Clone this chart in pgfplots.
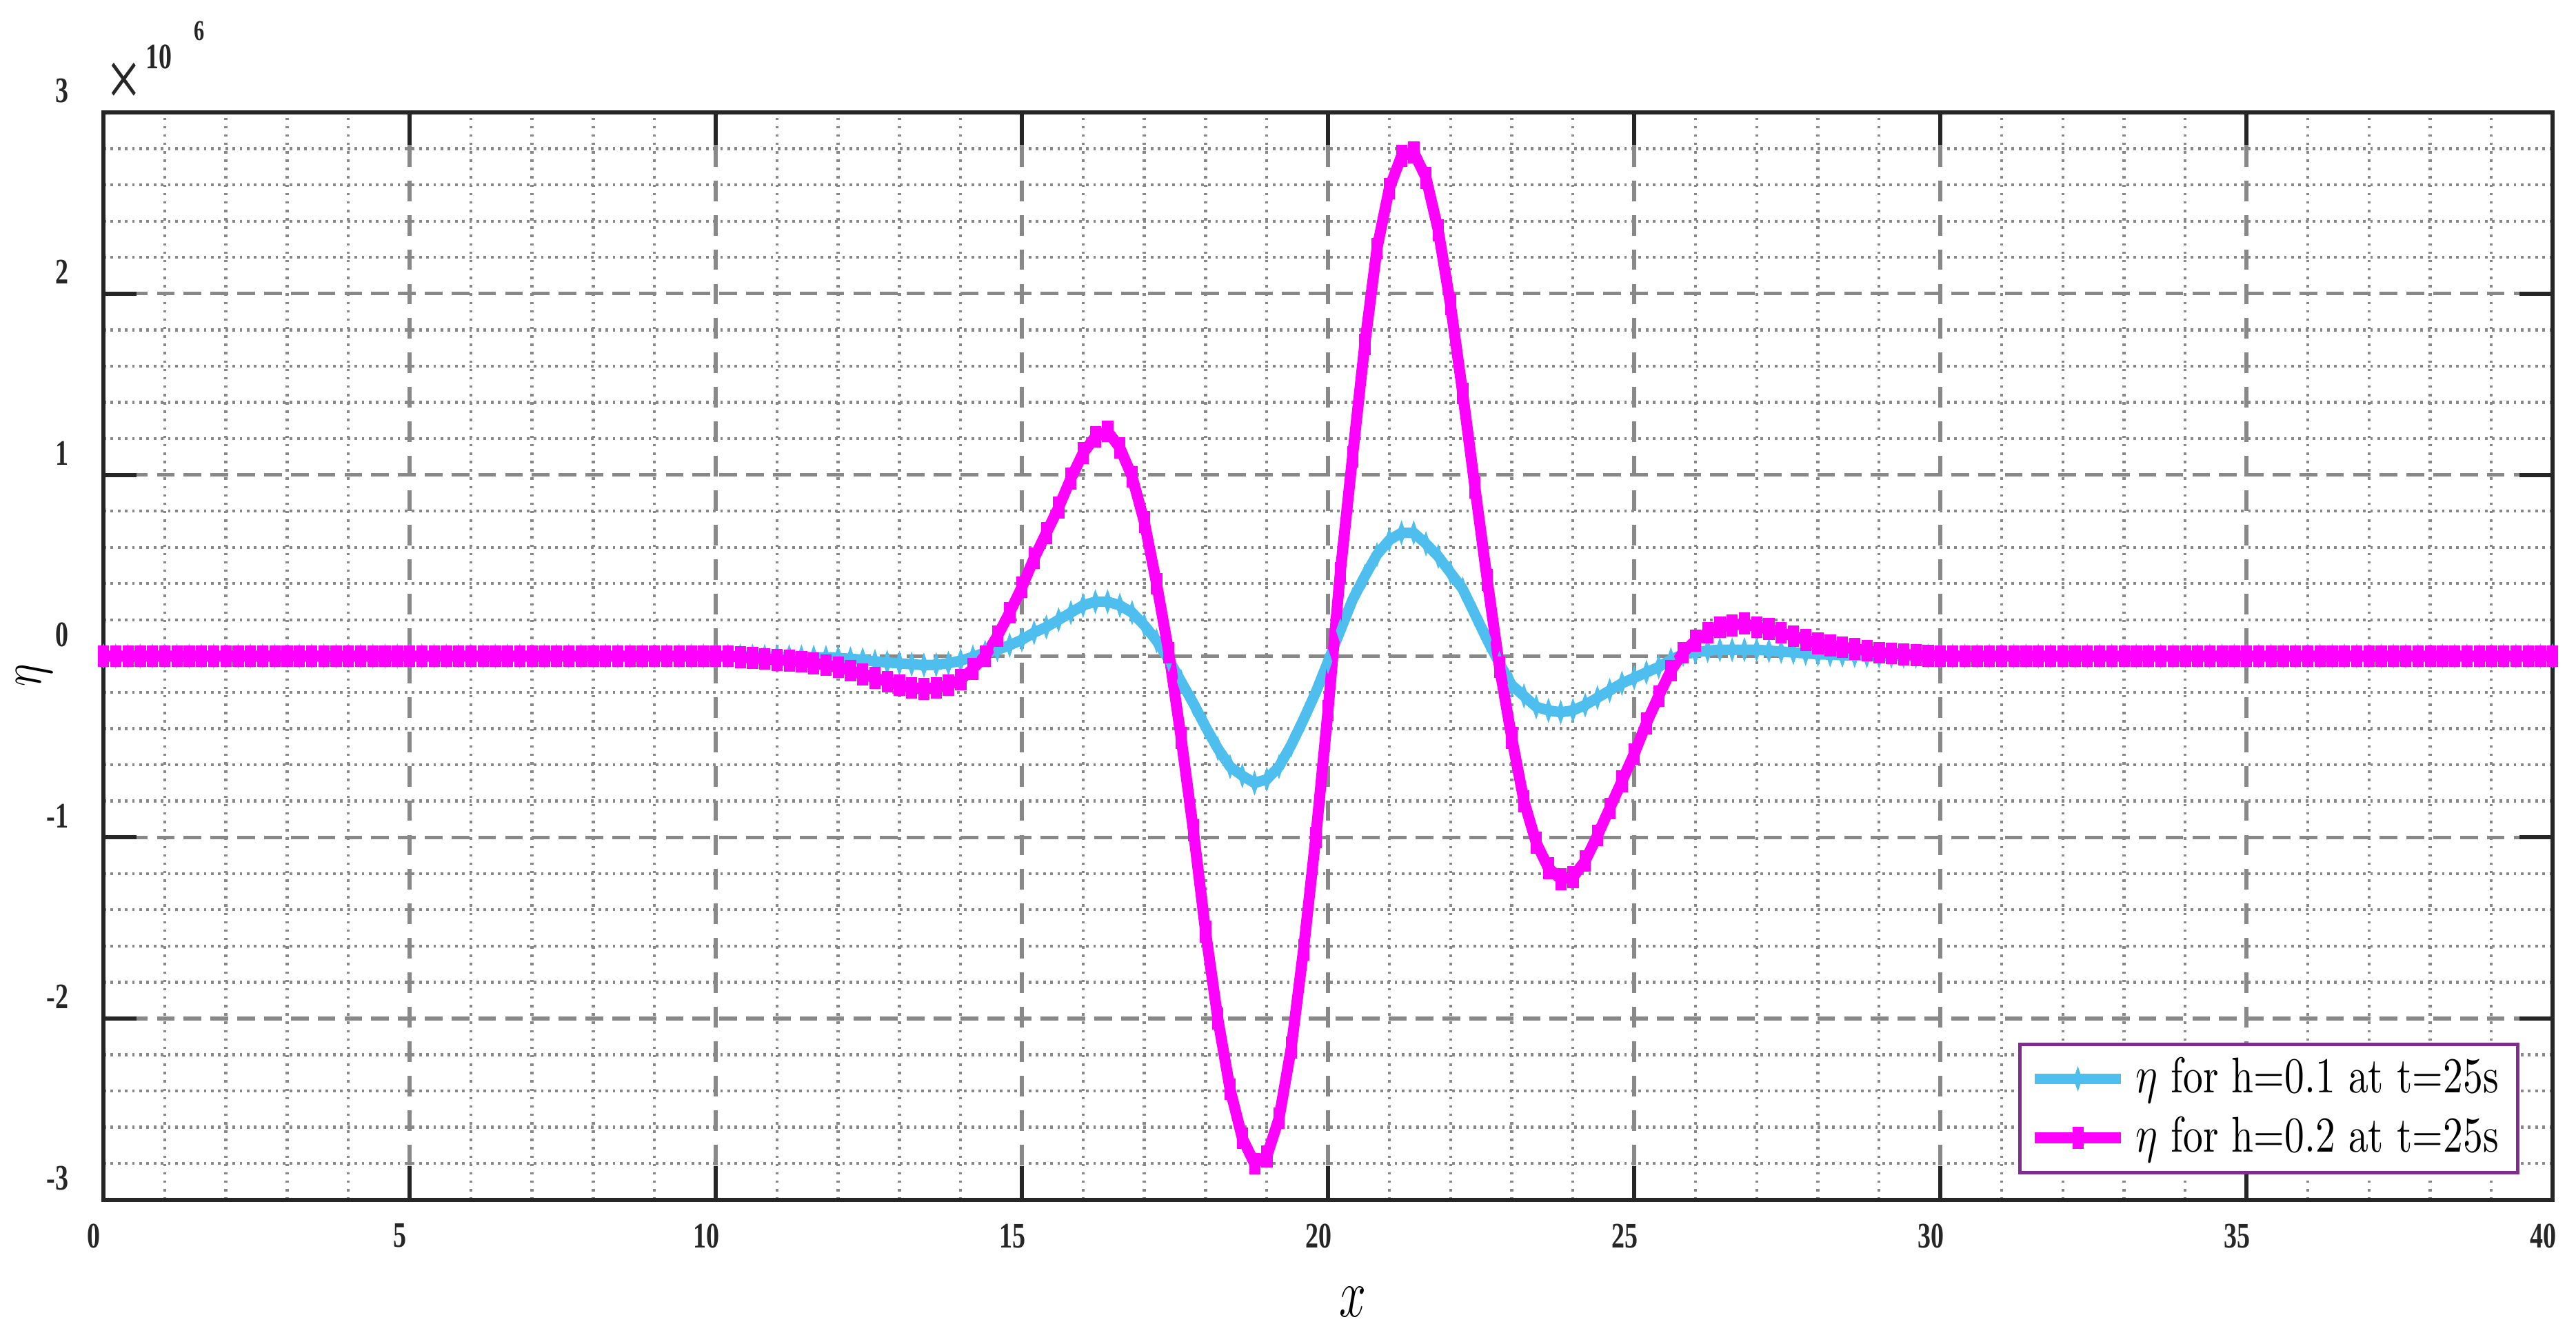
\documentclass[border=0pt]{standalone}
\usepackage{fontspec}
\usepackage{pgfplots}
\usepackage{pgfplotstable}
\pgfplotsset{compat=1.18}

% the figure is squeezed sideways, so the fonts are too
\newfontfamily\tickfont{Liberation Serif}[FakeStretch=0.73]

\definecolor{mcyan}{rgb}{0.301,0.745,0.933}
\definecolor{mmag}{rgb}{1,0,1}
\definecolor{mpurple}{rgb}{0.494,0.184,0.556}
\definecolor{mgrid}{RGB}{136,136,136}
\definecolor{mframe}{RGB}{38,38,38}

% x, eta for h=0.1 (a), eta for h=0.2 (b), in units of 1e-6
\pgfplotstableread[row sep=\\]{
x a b\\
0 0 0\\ 0.2 0 0\\ 0.4 0 0\\ 0.6 0 0\\ 0.8 0 0\\ 1.0 0 0\\ 1.2 0 0\\ 1.4 0 0\\ 1.6 0 0\\ 1.8 0 0\\
2.0 0 0\\ 2.2 0 0\\ 2.4 0 0\\ 2.6 0 0\\ 2.8 0 0\\ 3.0 0 0\\ 3.2 0 0\\ 3.4 0 0\\ 3.6 0 0\\ 3.8 0 0\\
4.0 0 0\\ 4.2 0 0\\ 4.4 0 0\\ 4.6 0 0\\ 4.8 0 0\\ 5.0 0 0\\ 5.2 0 0\\ 5.4 0 0\\ 5.6 0 0\\ 5.8 0 0\\
6.0 0 0\\ 6.2 0 0\\ 6.4 0 0\\ 6.6 0 0\\ 6.8 0 0\\ 7.0 0 0\\ 7.2 0 0\\ 7.4 0 0\\ 7.6 0 0\\ 7.8 0 0\\
8.0 0 0\\ 8.2 0 0\\ 8.4 0 0\\ 8.6 0 0\\ 8.8 0 0\\ 9.0 0 0\\ 9.2 0 0\\ 9.4 0 0\\ 9.6 0 0\\ 9.8 0 0\\
10.0 0 0\\ 10.2 0 0\\ 10.4 0 -0.005\\ 10.6 0 -0.01\\ 10.8 -0.002 -0.015\\
11.0 -0.003 -0.02\\ 11.2 -0.004 -0.025\\ 11.4 -0.005 -0.03\\ 11.6 -0.007 -0.04\\ 11.8 -0.008 -0.05\\
12.0 -0.01 -0.06\\ 12.2 -0.015 -0.08\\ 12.4 -0.02 -0.10\\ 12.6 -0.03 -0.12\\ 12.8 -0.035 -0.14\\
13.0 -0.04 -0.16\\ 13.2 -0.045 -0.175\\ 13.4 -0.05 -0.18\\ 13.6 -0.048 -0.175\\ 13.8 -0.04 -0.16\\
14.0 -0.025 -0.13\\ 14.2 -0.005 -0.07\\ 14.4 0.02 0.0\\ 14.6 0.035 0.11\\ 14.8 0.06 0.24\\
15.0 0.09 0.38\\ 15.2 0.13 0.54\\ 15.4 0.16 0.68\\ 15.6 0.20 0.82\\ 15.8 0.24 0.98\\
16.0 0.28 1.12\\ 16.2 0.30 1.21\\ 16.4 0.30 1.24\\ 16.6 0.28 1.15\\ 16.8 0.24 0.99\\
17.0 0.17 0.74\\ 17.2 0.085 0.40\\ 17.4 -0.02 0.02\\ 17.6 -0.14 -0.45\\ 17.8 -0.26 -0.96\\
18.0 -0.39 -1.52\\ 18.2 -0.51 -2.00\\ 18.4 -0.61 -2.39\\ 18.6 -0.66 -2.66\\ 18.8 -0.70 -2.80\\
19.0 -0.68 -2.76\\ 19.2 -0.61 -2.55\\ 19.4 -0.49 -2.16\\ 19.6 -0.35 -1.62\\ 19.8 -0.20 -1.00\\
20.0 -0.03 -0.30\\ 20.2 0.14 0.46\\ 20.4 0.31 1.10\\ 20.6 0.44 1.72\\ 20.8 0.56 2.25\\
21.0 0.64 2.58\\ 21.2 0.68 2.76\\ 21.4 0.68 2.78\\ 21.6 0.62 2.64\\ 21.8 0.55 2.35\\
22.0 0.46 1.94\\ 22.2 0.37 1.45\\ 22.4 0.23 0.93\\ 22.6 0.09 0.42\\ 22.8 -0.04 -0.06\\
23.0 -0.16 -0.45\\ 23.2 -0.22 -0.80\\ 23.4 -0.28 -1.03\\ 23.6 -0.30 -1.17\\ 23.8 -0.31 -1.23\\
24.0 -0.30 -1.22\\ 24.2 -0.27 -1.13\\ 24.4 -0.23 -0.99\\ 24.6 -0.19 -0.84\\ 24.8 -0.15 -0.69\\
25.0 -0.12 -0.54\\ 25.2 -0.09 -0.37\\ 25.4 -0.06 -0.22\\ 25.6 -0.02 -0.08\\ 25.8 0.01 0.02\\
26.0 0.02 0.085\\ 26.2 0.03 0.13\\ 26.4 0.035 0.16\\ 26.6 0.035 0.17\\ 26.8 0.035 0.18\\
27.0 0.035 0.16\\ 27.2 0.03 0.15\\ 27.4 0.025 0.13\\ 27.6 0.02 0.11\\ 27.8 0.015 0.09\\
28.0 0.01 0.07\\ 28.2 0.008 0.06\\ 28.4 0.005 0.05\\ 28.6 0.003 0.04\\ 28.8 0.002 0.03\\
29.0 0 0.02\\ 29.2 0 0.016\\ 29.4 0 0.01\\ 29.6 0 0.005\\ 29.8 0 0.002\\
30.0 0 0\\ 30.2 0 0\\ 30.4 0 0\\ 30.6 0 0\\ 30.8 0 0\\ 31.0 0 0\\ 31.2 0 0\\ 31.4 0 0\\ 31.6 0 0\\ 31.8 0 0\\
32.0 0 0\\ 32.2 0 0\\ 32.4 0 0\\ 32.6 0 0\\ 32.8 0 0\\ 33.0 0 0\\ 33.2 0 0\\ 33.4 0 0\\ 33.6 0 0\\ 33.8 0 0\\
34.0 0 0\\ 34.2 0 0\\ 34.4 0 0\\ 34.6 0 0\\ 34.8 0 0\\ 35.0 0 0\\ 35.2 0 0\\ 35.4 0 0\\ 35.6 0 0\\ 35.8 0 0\\
36.0 0 0\\ 36.2 0 0\\ 36.4 0 0\\ 36.6 0 0\\ 36.8 0 0\\ 37.0 0 0\\ 37.2 0 0\\ 37.4 0 0\\ 37.6 0 0\\ 37.8 0 0\\
38.0 0 0\\ 38.2 0 0\\ 38.4 0 0\\ 38.6 0 0\\ 38.8 0 0\\ 39.0 0 0\\ 39.2 0 0\\ 39.4 0 0\\ 39.6 0 0\\ 39.8 0 0\\
40.0 0 0\\
}\etadata

\begin{document}
\begin{tikzpicture}
\begin{axis}[
    name=ax,
    scale only axis,
    width=18cm, height=7.99cm,
    xmin=0, xmax=40, ymin=-3, ymax=3,
    xtick={0,5,...,40},
    ytick={-3,-2,...,3},
    xticklabels={0,5,10,15,20,25,30,35,40},
    yticklabels={-3,-2,-1,0,1,2,3},
    minor tick num=4,
    minor tick length=0pt,
    major tick length=0.245cm,
    tick align=inside,
    tick style={mframe, line width=0.87pt},
    axis line style={mframe, line width=0.87pt},
    ticklabel style={font=\tickfont\bfseries\fontsize{7.5}{8}\selectfont, text=mframe},
    yticklabel style={xshift=-3.8pt, yshift=4.5pt},
    xticklabel style={xshift=-2pt, yshift=-1.5pt},
    grid=both,
    major grid style={mgrid, line width=0.75pt},
    minor grid style={mgrid, line width=0.62pt},
    major x grid style={dash pattern=on 4.3pt off 2.9pt},
    major y grid style={dash pattern=on 3.7pt off 1.9pt},
    minor x grid style={dash pattern=on 0.5pt off 1.25pt},
    minor y grid style={dash pattern=on 0.55pt off 0.95pt},
    xlabel={\scalebox{0.7}[1]{$x$}},
    xlabel style={font=\fontsize{14.4}{16}\selectfont, at={(rel axis cs:0.510,-0.0939)}, anchor=center},
    ylabel={\scalebox{0.75}[1]{$\eta$}},
    ylabel style={font=\fontsize{13}{15}\selectfont, at={(rel axis cs:-0.0282,0.482)}, anchor=center},
    legend cell align=left,
    legend image code/.code={%
        \draw[mark repeat=2, mark phase=2, #1] plot coordinates {(0cm,0cm) (0.315cm,0cm) (0.63cm,0cm)};},
    legend style={
        at={(rel axis cs:0.9865,0.0235)}, anchor=south east,
        draw=mpurple, line width=0.75pt, fill=white,
        inner xsep=2pt, inner ysep=0.8pt, row sep=-0.6pt,
        font=\fontsize{10.5}{12}\selectfont,
    },
]
\addplot[color=mcyan, line width=2.2pt, mark=diamond*, mark size=2.5pt,
    mark options={xscale=0.45, solid, line width=0.1pt}] table[x=x, y=a] {\etadata};
\addlegendentry{\scalebox{0.79}[1]{$\eta$ for h=0.1 at t=25s}}
\addplot[color=mmag, line width=2.3pt, mark=square*, mark size=2.2pt,
    mark options={xscale=0.5, solid, line width=0.1pt}] table[x=x, y=b] {\etadata};
\addlegendentry{\scalebox{0.79}[1]{$\eta$ for h=0.2 at t=25s}}
\end{axis}

% exponent label in the top left corner
\node[font=\tickfont\fontsize{17}{17}\selectfont, text=mframe, inner sep=0pt]
    at ([xshift=0.152cm, yshift=0.203cm]ax.north west) {×};
\node[font=\tickfont\bfseries\fontsize{7.5}{8}\selectfont, text=mframe, inner sep=0pt]
    at ([xshift=0.41cm, yshift=0.41cm]ax.north west) {10};
\node[font=\tickfont\bfseries\fontsize{6}{7}\selectfont, text=mframe, inner sep=0pt]
    at ([xshift=0.705cm, yshift=0.6cm]ax.north west) {6};

% page margins as in the reference
\path ([xshift=-0.760cm, yshift=-0.973cm]ax.south west) rectangle ([xshift=0.172cm, yshift=0.826cm]ax.north east);
\end{tikzpicture}
\end{document}
